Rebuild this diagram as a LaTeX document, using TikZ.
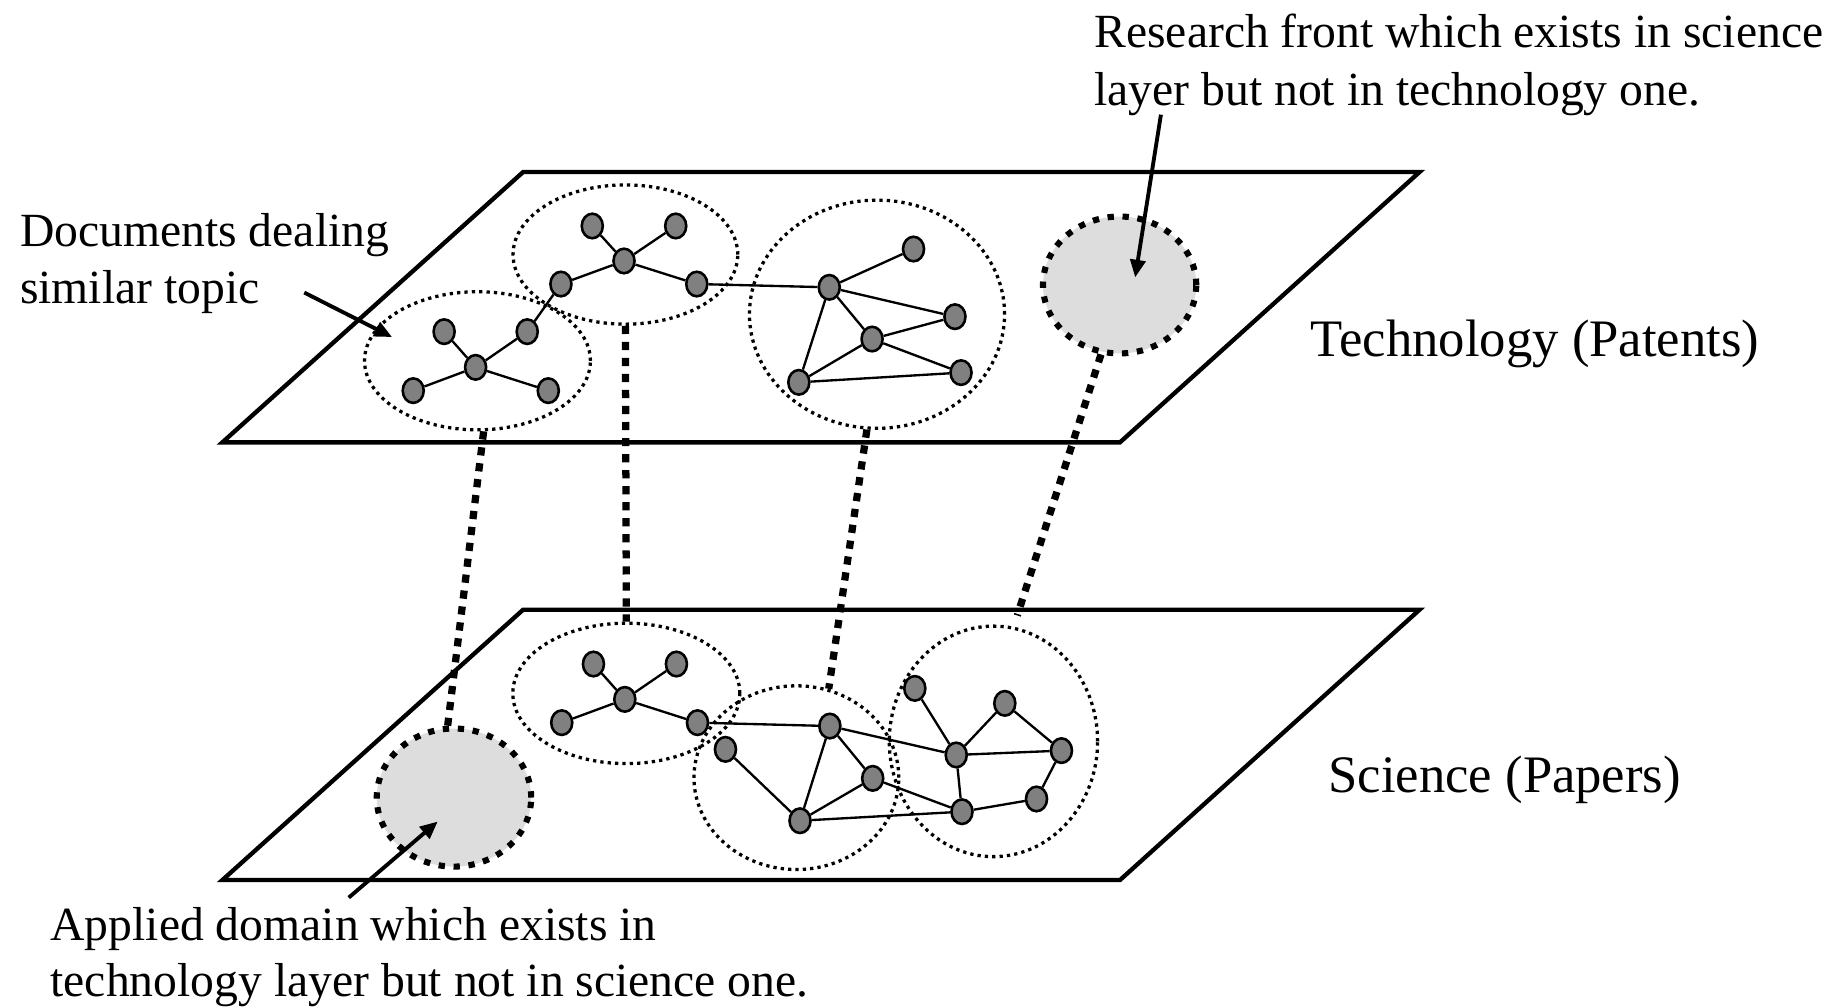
\documentclass[tikz,border=0pt]{standalone}
\usepackage{fontspec}
\setmainfont{Liberation Serif}
\usetikzlibrary{arrows.meta,shapes.geometric}
\definecolor{nodegray}{RGB}{128,128,128}
\definecolor{areagray}{RGB}{221,221,221}
\begin{document}
\begin{tikzpicture}[x=1pt,y=-1pt,
 plane/.style={draw, line width=3.7pt, fill=white, line join=miter},
 doc/.style={ellipse, draw, line width=2.2pt, fill=nodegray, minimum width=18pt, minimum height=21pt, inner sep=0pt},
 cluster/.style={ellipse, draw, line width=2.8pt, dash pattern=on 2.8pt off 3.5pt, inner sep=0pt},
 area/.style={ellipse, draw, fill=areagray, line width=5.2pt, dash pattern=on 5.4pt off 7.4pt, inner sep=0pt},
 link/.style={line width=2pt},
 corr/.style={line width=6.2pt, dash pattern=on 7pt off 6.7pt},
 callout/.style={line width=3.3pt, -{Triangle[length=15pt,width=13pt]}},
 note/.style={font=\fontsize{40.7}{50}\selectfont, anchor=base west, inner sep=0pt},
 layername/.style={font=\fontsize{45}{54}\selectfont, anchor=base west, inner sep=0pt}
]
\useasboundingbox (0,0) rectangle (1568,861);
% planes
\coordinate (t1) at (447,147); \coordinate (t2) at (1213,147);
\coordinate (t3) at (957,378); \coordinate (t4) at (190,378);
\coordinate (s1) at (447,521); \coordinate (s2) at (1213,521);
\coordinate (s3) at (957,752); \coordinate (s4) at (190,752);
\draw[plane] (t1) -- (t2) -- (t3) -- (t4) -- cycle;
\draw[plane] (s1) -- (s2) -- (s3) -- (s4) -- cycle;
% clusters
\node[cluster, minimum width=193pt, minimum height=118pt] (cA) at (408,308.3) {};
\node[cluster, minimum width=192pt, minimum height=119pt] (cB) at (534.4,217.5) {};
\node[cluster, minimum width=218pt, minimum height=195pt] (cC) at (749.4,268.5) {};
\node[area, minimum width=131pt, minimum height=117pt] (gT) at (956.7,243.5) {};
\node[cluster, minimum width=194pt, minimum height=120pt] (cB2) at (535.2,592.5) {};
\node[cluster, minimum width=175pt, minimum height=157pt] (cC2) at (680.5,664.5) {};
\node[cluster, minimum width=178pt, minimum height=197pt] (cD2) at (848.9,633.5) {};
\node[area, minimum width=132pt, minimum height=118pt] (gB) at (387.9,681.5) {};
% top documents
\node[doc] (a1) at (379.5,283.4) {};
\node[doc] (a2) at (450.5,283.4) {};
\node[doc] (a0) at (406.4,313.9) {};
\node[doc] (a3) at (353.1,333.8) {};
\node[doc] (a4) at (468.5,333.8) {};
\node[doc] (b1) at (506.1,193.1) {};
\node[doc] (b2) at (577.4,193.1) {};
\node[doc] (b0) at (533.2,223) {};
\node[doc] (b3) at (479.3,242.7) {};
\node[doc] (b4) at (595.4,242.7) {};
\node[doc] (c1) at (708.6,245.5) {};
\node[doc] (c2) at (780.6,212.8) {};
\node[doc] (c3) at (816,270.6) {};
\node[doc] (c4) at (745.2,289.7) {};
\node[doc] (c5) at (821.2,318.4) {};
\node[doc] (c6) at (682.6,326.7) {};
% bottom documents
\node[doc] (p1) at (507.1,567.4) {};
\node[doc] (p2) at (578,567.4) {};
\node[doc] (p0) at (533.9,597.6) {};
\node[doc] (p3) at (480,617.5) {};
\node[doc] (p4) at (596,617.5) {};
\node[doc] (q1) at (619.9,640.3) {};
\node[doc] (q2) at (709.1,620.4) {};
\node[doc] (q3) at (745.7,665.1) {};
\node[doc] (q4) at (683.6,701.3) {};
\node[doc] (r1) at (781.7,588.2) {};
\node[doc] (r2) at (858.6,601) {};
\node[doc] (r3) at (817.1,645.1) {};
\node[doc] (r4) at (907,641.4) {};
\node[doc] (r5) at (822,693.6) {};
\node[doc] (r6) at (885.7,682.7) {};
% links
\draw[link] (a0) -- (a1); \draw[link] (a0) -- (a2); \draw[link] (a0) -- (a3); \draw[link] (a0) -- (a4);
\draw[link] (a2) -- (b3);
\draw[link] (b0) -- (b1); \draw[link] (b0) -- (b2); \draw[link] (b0) -- (b3); \draw[link] (b0) -- (b4);
\draw[link] (b4) -- (c1);
\draw[link] (c1) -- (c2); \draw[link] (c1) -- (c3); \draw[link] (c1) -- (c4); \draw[link] (c1) -- (c6);
\draw[link] (c4) -- (c3); \draw[link] (c4) -- (c5); \draw[link] (c4) -- (c6); \draw[link] (c6) -- (c5);
\draw[link] (p0) -- (p1); \draw[link] (p0) -- (p2); \draw[link] (p0) -- (p3); \draw[link] (p0) -- (p4);
\draw[link] (p4) -- (q2);
\draw[link] (q1) -- (q4); \draw[link] (q2) -- (q4); \draw[link] (q2) -- (q3); \draw[link] (q3) -- (q4);
\draw[link] (q4) -- (r5); \draw[link] (q2) -- (r3); \draw[link] (q3) -- (r5);
\draw[link] (r1) -- (r3); \draw[link] (r2) -- (r3); \draw[link] (r2) -- (r4); \draw[link] (r3) -- (r4);
\draw[link] (r3) -- (r5); \draw[link] (r5) -- (r6); \draw[link] (r6) -- (r4);
% correspondences
\draw[corr] (cA.-85) -- (gB.95);
\draw[corr] (cB.south) -- (cB2.north);
\draw[corr] (cC.-95) -- (cC2.70);
\draw[corr, shorten >=10pt] (gT.-105) -- (cD2.80);
% texts
\node[note] (rf1) at (935,40.5) {Research front which exists in science};
\node[note] (rf2) at (935,90.5) {layer but not in technology one.};
\node[note] (dc1) at (17,210.5) {Documents dealing};
\node[note] (dc2) at (17,259.5) {similar topic};
\node[note] (ap1) at (43,803.5) {Applied domain which exists in};
\node[note] (ap2) at (43,851.5) {technology layer but not in science one.};
\node[layername] (tech) at (1120,305) {Technology (Patents)};
\node[layername] (sci) at (1135,677) {Science (Papers)};
% callout arrows
\coordinate (rfFrom) at (992,98); \coordinate (rfTip) at (970,237);
\coordinate (dcFrom) at (260,250); \coordinate (dcTip) at (335,288);
\coordinate (apFrom) at (298,767); \coordinate (apTip) at (374,702);
\draw[callout] (rfFrom) -- (rfTip);
\draw[callout] (dcFrom) -- (dcTip);
\draw[callout] (apFrom) -- (apTip);
\end{tikzpicture}
\end{document}
